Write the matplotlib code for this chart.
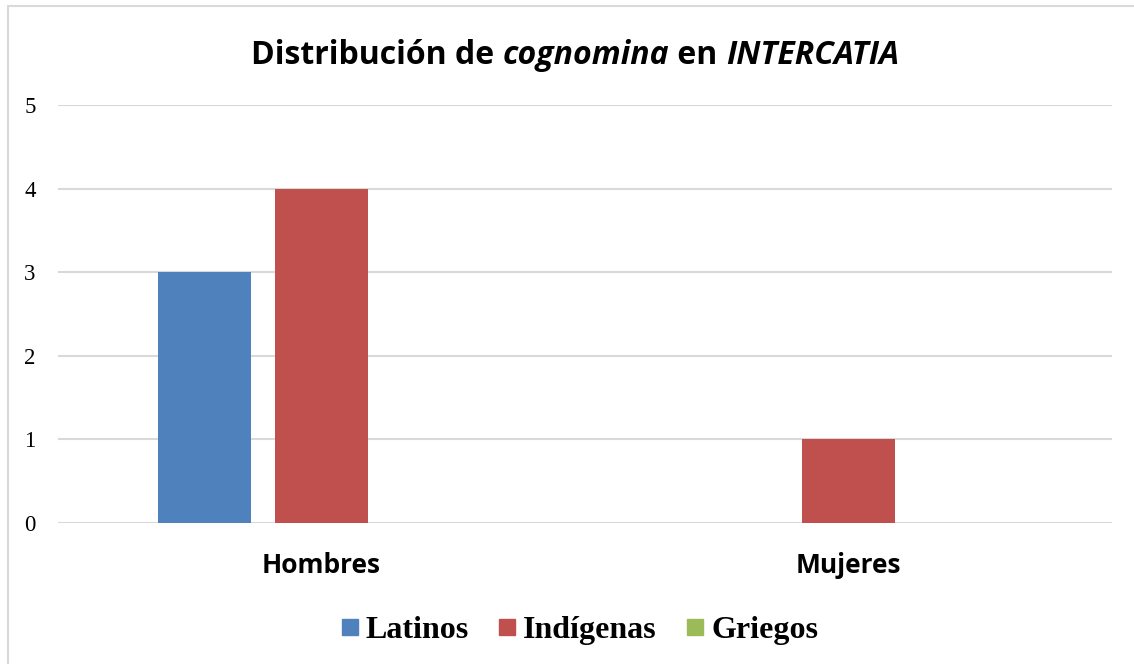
import numpy as np
import matplotlib.pyplot as plt
from matplotlib.lines import Line2D
from matplotlib.patches import Rectangle

categorias = ['Hombres', 'Mujeres']
series = ['Latinos', 'Indígenas', 'Griegos']
latinos = [3, 0]
indigenas = [4, 1]
griegos = [0, 0]
colores = ['#4f81bd', '#c0504d', '#9bbb59']

titulo = [('Distribución de ', 'normal'), ('cognomina', 'italic'),
          (' en ', 'normal'), ('INTERCATIA', 'italic')]

SANS = 'Open Sans'

fig = plt.figure(figsize=(11.34, 6.64), dpi=100)
ax = fig.add_axes([0.0511, 0.2123, 0.9295, 0.6295])

# marco del gráfico (solo se ve arriba y a la izquierda)
fig.patches.append(Rectangle((8/1134, -0.1), 1.2, 1 - 6/664 + 0.1,
                             transform=fig.transFigure, fill=False,
                             edgecolor='#d9d9d9', linewidth=1.5))

x = np.arange(len(categorias))
w = 0.176
paso = 0.222
for i, (vals, c) in enumerate(zip([latinos, indigenas, griegos], colores)):
    ax.bar(x + (i - 1) * paso, vals, width=w, color=c, zorder=3)

ax.set_xlim(-0.5, 1.5)
ax.set_ylim(0, 5)
ax.set_yticks(range(6))
ax.yaxis.grid(True, color='#d9d9d9', linewidth=1.5, zorder=0)
for s in ax.spines.values():
    s.set_visible(False)
ax.tick_params(axis='both', length=0)
ax.tick_params(axis='y', pad=16)
ax.set_yticklabels([str(v) for v in range(6)], family='Liberation Serif', fontsize=16.5)
ax.set_xticks(x)
ax.set_xticklabels(categorias, family=SANS, fontweight='bold', fontsize=19)
ax.tick_params(axis='x', pad=21)

# título con partes en cursiva
fig.canvas.draw()
r = fig.canvas.get_renderer()
piezas = []
for txt, st in titulo:
    t = fig.text(0, 0.916, txt, ha='left', va='center', family=SANS,
                 fontweight='bold', style=st, fontsize=23)
    piezas.append(t)
anchos = [t.get_window_extent(r).width for t in piezas]
x0 = 575 - sum(anchos) / 2
for t, a in zip(piezas, anchos):
    t.set_x(x0 / 1134)
    x0 += a

handles = [Line2D([], [], marker='s', linestyle='none', markersize=11,
                  markerfacecolor=c, markeredgecolor=c) for c in colores]
fig.legend(handles, series, loc='center', bbox_to_anchor=(0.51, 0.05), ncol=3,
           frameon=False, handlelength=0.7, handletextpad=0.15, columnspacing=0.85,
           prop={'family': 'Liberation Serif', 'weight': 'bold', 'size': 23})

fig.savefig('out.png', dpi=100)
